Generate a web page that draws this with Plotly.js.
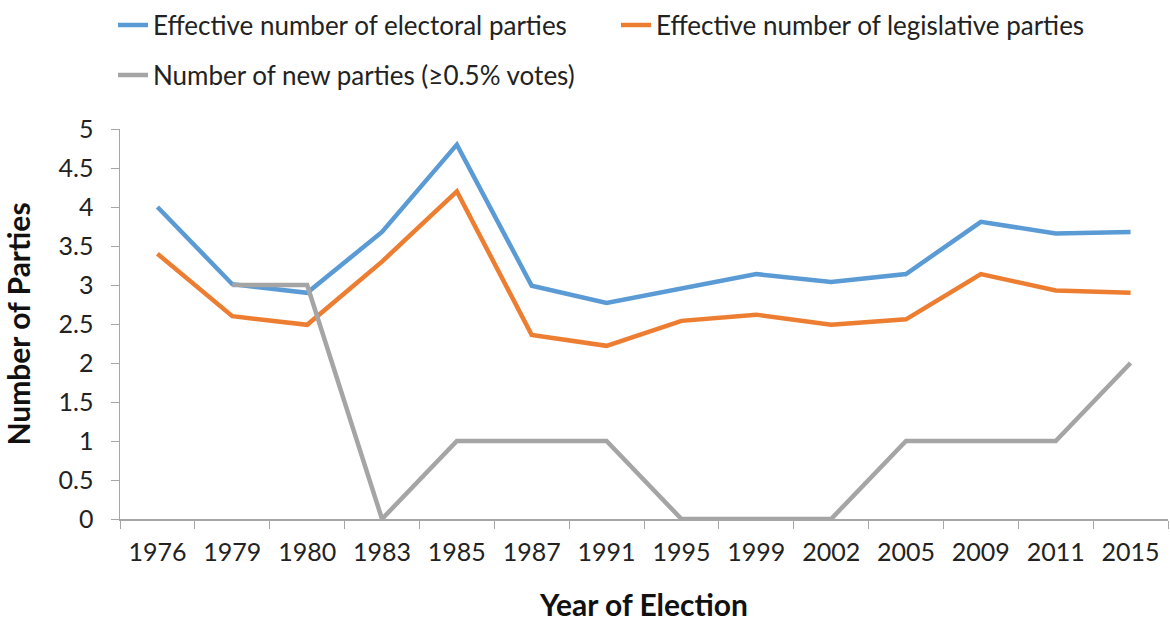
<!DOCTYPE html>
<html>
<head>
<meta charset="utf-8">
<script src="https://cdn.plot.ly/plotly-3.0.1.min.js"></script>
<style>html,body{margin:0;padding:0;background:#fff;}#chart{width:1170px;height:622px;}</style>
</head>
<body>
<div id="chart"></div>
<script>
const years = ["1976","1979","1980","1983","1985","1987","1991","1995","1999","2002","2005","2009","2011","2015"];
const electoralParties = [4.0, 3.01, 2.9, 3.68, 4.8, 2.99, 2.77, 2.95, 3.14, 3.04, 3.14, 3.81, 3.66, 3.68];
const legislativeParties = [3.4, 2.6, 2.49, 3.3, 4.2, 2.36, 2.22, 2.54, 2.62, 2.49, 2.56, 3.14, 2.93, 2.9];
const newParties = [null, 3, 3, 0, 1, 1, 1, 0, 0, 0, 1, 1, 1, 2];
const yTicks = [0, 0.5, 1, 1.5, 2, 2.5, 3, 3.5, 4, 4.5, 5];
const yTickLabels = ["0", "0.5", "1", "1.5", "2", "2.5", "3", "3.5", "4", "4.5", "5"];

const font = "Lato, 'Open Sans', sans-serif";
const traces = [
  {x: years, y: electoralParties, type: "scatter", mode: "lines", name: "Effective number of electoral parties",
   line: {color: "#5B9BD5", width: 4.5}, legend: "legend"},
  {x: years, y: legislativeParties, type: "scatter", mode: "lines", name: "Effective number of legislative parties",
   line: {color: "#ED7D31", width: 4.5}, legend: "legend2"},
  {x: years, y: newParties, type: "scatter", mode: "lines", name: "Number of new parties (≥0.5% votes)",
   line: {color: "#A5A5A5", width: 4.5}, connectgaps: false, legend: "legend3"}
];
const legFont = {family: font, size: 26, color: "#222"};
function leg(xpx, ypx) {
  return {orientation: "h", xref: "container", x: xpx / 1170, xanchor: "left", yref: "container",
          y: 1 - ypx / 622, yanchor: "middle", font: legFont, itemwidth: 30, bgcolor: "rgba(0,0,0,0)"};
}
const layout = {
  width: 1170, height: 622,
  margin: {l: 120, r: 2, t: 129, b: 103},
  paper_bgcolor: "#fff", plot_bgcolor: "#fff",
  font: {family: font, size: 25, color: "#222"},
  showlegend: true,
  legend: leg(113, 25),
  legend2: leg(616, 25),
  legend3: leg(113, 75),
  xaxis: {type: "category", showgrid: false, zeroline: false, showline: true, linecolor: "#A6A6A6", linewidth: 1.5,
          ticks: "outside", ticklen: 8, tickcolor: "#A6A6A6", tickson: "boundaries", ticklabelstandoff: 10,
          tickfont: {family: font, size: 25, color: "#222"},
          title: {text: "<b>Year of Election</b>", font: {family: font, size: 30, color: "#111"}, standoff: 34},
          range: [-0.5, 13.5]},
  yaxis: {range: [0, 5], tickvals: yTicks, ticktext: yTickLabels, showgrid: false, zeroline: false,
          showline: true, linecolor: "#A6A6A6", linewidth: 1.5, ticks: "outside", ticklen: 8, tickcolor: "#A6A6A6",
          ticklabelstandoff: 12,
          tickfont: {family: font, size: 25, color: "#222"},
          title: {text: "<b>Number of Parties</b>", font: {family: font, size: 30, color: "#111"}, standoff: 22}}
};
Plotly.newPlot("chart", traces, layout, {displayModeBar: false, staticPlot: true});
</script>
</body>
</html>
